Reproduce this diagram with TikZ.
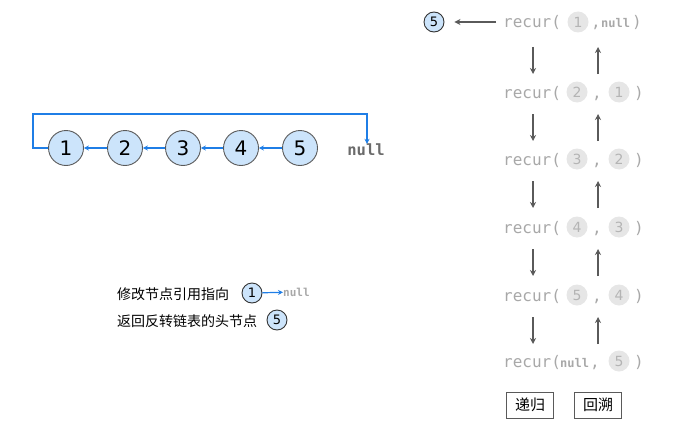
\documentclass[tikz,border=0pt]{standalone}
\usepackage{fontspec}
\setmainfont{DejaVu Sans}
\setmonofont{DejaVu Sans Mono}
\newfontfamily\cjk{Noto Sans CJK SC}
\usetikzlibrary{arrows.meta}
\definecolor{nodeblue}{HTML}{CCE4FB}
\definecolor{linkblue}{HTML}{1F7EE6}
\definecolor{darkg}{HTML}{5A5A5A}
\definecolor{lightg}{HTML}{A8A8A8}
\definecolor{discg}{HTML}{E6E6E6}
\definecolor{discnum}{HTML}{B4B4B4}
\tikzset{
  listnode/.style={circle,draw=darkg,line width=0.9pt,fill=nodeblue,minimum size=35pt,inner sep=0pt,font=\fontsize{20}{20}\selectfont},
  smallnode/.style={circle,draw=black!80,line width=0.9pt,fill=nodeblue,minimum size=20pt,inner sep=0pt,font=\fontsize{13}{13}\selectfont},
  disc/.style={circle,fill=discg,minimum size=21pt,inner sep=0pt,text=discnum,font=\fontsize{14}{14}\selectfont},
  rectxt/.style={inner sep=0pt,anchor=base west,text=lightg,font=\ttfamily\fontsize{16}{16}\selectfont},
  nulltxt/.style={inner sep=0pt,anchor=base west,text=lightg,font=\ttfamily\bfseries\fontsize{12}{12}\selectfont},
  link/.style={linkblue,line width=1.4pt,-{Stealth[length=5pt,width=5pt]}},
  grayarr/.style={darkg,line width=1.4pt,-{Stealth[length=6pt,width=6pt]}},
  cjktxt/.style={inner sep=0pt,anchor=base west,font=\cjk\fontsize{14}{14}\selectfont},
  boxtxt/.style={draw=darkg,line width=0.8pt,minimum width=47pt,minimum height=26pt,inner sep=0pt,font=\cjk\fontsize{15}{15}\selectfont}
}
\begin{document}
\begin{tikzpicture}[x=1pt,y=-1pt]
\useasboundingbox (0,0) rectangle (676,428);
% linked list
\node[listnode] (n1) at (66,148) {1};
\node[listnode] (n2) at (125,148) {2};
\node[listnode] (n3) at (183,148) {3};
\node[listnode] (n4) at (241,148) {4};
\node[listnode] (n5) at (300,148) {5};
\node[inner sep=0pt,text=darkg!90,font=\ttfamily\bfseries\fontsize{15.5}{15.5}\selectfont] (nl) at (366,150) {null};
\draw[link] (n5) -- (n4);
\draw[link] (n4) -- (n3);
\draw[link] (n3) -- (n2);
\draw[link] (n2) -- (n1);
\coordinate (c1) at (33,148);
\coordinate (c2) at (33,114);
\coordinate (c3) at (367,114);
\draw[link] (n1.west) -- (c1) -- (c2) -- (c3) -- (nl.north -| c3);
% legend
\node[cjktxt] (t1) at (117,299) {修改节点引用指向};
\node[smallnode] (l1) at (252,293) {1};
\node[inner sep=0pt,anchor=west,text=lightg,font=\ttfamily\bfseries\fontsize{11}{11}\selectfont] (lnull) at (283,292) {null};
\draw[link,line width=1.2pt] (l1) -- (lnull);
\node[cjktxt] (t2) at (117,326) {返回反转链表的头节点};
\node[smallnode] (l5) at (277,320) {5};
% right column
% row 1
\node[rectxt] (r1) at (503,28) {recur(};
\node[disc] (r1a) at (578,22) {1};
\node[rectxt] (r1c) at (591,28) {,};
\node[nulltxt] (r1n) at (601,28) {null};
\node[rectxt] (r1p) at (632,28) {)};
\node[smallnode] (top5) at (434,22) {5};
\coordinate (ta) at (496,22);
\draw[grayarr] (ta) -- ([xshift=10pt]top5.east);
% rows 2-5
\foreach \i/\y/\a/\b in {2/92/2/1,3/159/3/2,4/227/4/3,5/295/5/4}{
  \node[rectxt] (r\i) at (503,\y+6) {recur(};
  \node[disc] (r\i a) at (577,\y) {\a};
  \node[rectxt] (r\i c) at (592,\y+6) {,};
  \node[disc] (r\i b) at (619,\y) {\b};
  \node[rectxt] (r\i p) at (634,\y+6) {)};
}
% row 6
\node[rectxt] (r6) at (503,367) {recur(};
\node[nulltxt] (r6n) at (560,367) {null};
\node[rectxt] (r6c) at (590,367) {,};
\node[disc] (r6b) at (619,361) {5};
\node[rectxt] (r6p) at (634,367) {)};
% arrows
\foreach \y in {47,114,181,249,317}{
  \coordinate (d\y s) at (533,\y);
  \coordinate (d\y e) at (533,\y+27);
  \coordinate (u\y s) at (598,\y+27);
  \coordinate (u\y e) at (598,\y);
  \draw[grayarr] (d\y s) -- (d\y e);
  \draw[grayarr] (u\y s) -- (u\y e);
}
% boxes
\node[boxtxt] (b1) at (530,405) {递归};
\node[boxtxt] (b2) at (598,405) {回溯};
\end{tikzpicture}
\end{document}
